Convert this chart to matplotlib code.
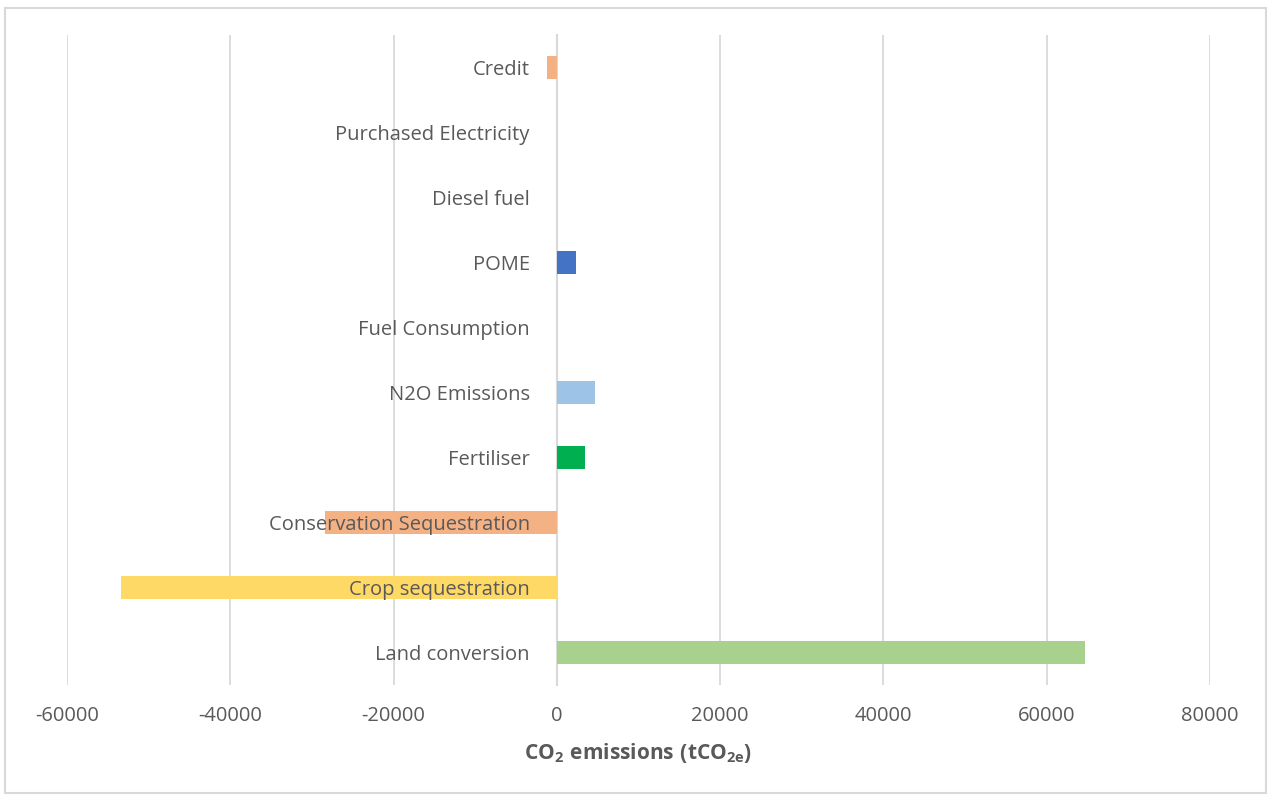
import matplotlib.pyplot as plt
from matplotlib.patches import Rectangle

plt.rcParams['font.family'] = ['Open Sans', 'DejaVu Sans']
plt.rcParams['mathtext.fontset'] = 'custom'
plt.rcParams['mathtext.rm'] = 'Open Sans'
plt.rcParams['mathtext.bf'] = 'Open Sans:bold'

# emission sources, bottom to top
sources = ['Land conversion', 'Crop sequestration', 'Conservation Sequestration',
           'Fertiliser', 'N2O Emissions', 'Fuel Consumption', 'POME',
           'Diesel fuel', 'Purchased Electricity', 'Credit']
emissions = [64700, -53400, -28400, 3400, 4650, 0, 2300, 0, 0, -1200]
bar_colors = ['#A9D18E', '#FFD966', '#F4B183', '#00B050', '#9DC3E6',
              '#A5A5A5', '#4472C4', '#ED7D31', '#5B9BD5', '#F4B183']
ticks = [-60000, -40000, -20000, 0, 20000, 40000, 60000, 80000]

text_col = '#595959'
grid_col = '#D9D9D9'

fig = plt.figure(figsize=(12.68, 7.96), dpi=100)
ax = fig.add_axes([67 / 1268, 1 - 685 / 796, (1210 - 67) / 1268, (685 - 35) / 796])

pos = list(range(len(sources)))
ax.barh(pos, emissions, height=0.36, color=bar_colors, zorder=3)

ax.set_xlim(-60000, 80000)
ax.set_ylim(-0.5, len(sources) - 0.5)
ax.set_xticks(ticks)
ax.set_xticklabels([str(t) for t in ticks])
ax.set_yticks(pos)
ax.set_yticklabels(sources)

ax.grid(axis='x', color=grid_col, linewidth=1.3, zorder=0)
for side in ['top', 'right', 'bottom']:
    ax.spines[side].set_visible(False)
ax.spines['left'].set_position(('data', 0))
ax.spines['left'].set_color(grid_col)
ax.spines['left'].set_linewidth(1.5)
ax.spines['left'].set_zorder(2)

ax.tick_params(axis='y', length=0, pad=19.5, labelsize=14.5, labelcolor=text_col)
ax.tick_params(axis='x', length=0, pad=15, labelsize=14.5, labelcolor=text_col)
# category names sit on top of the negative bars
ax.yaxis.set_zorder(5)

ax.set_xlabel(r'$\mathbf{CO_2\ emissions\ (tCO_{2e})}$', fontsize=15,
              color=text_col, labelpad=11)

# outer chart border
fig.add_artist(Rectangle((5 / 1268, 3 / 796), 1261 / 1268, 785 / 796,
                         transform=fig.transFigure, fill=False,
                         edgecolor=grid_col, linewidth=1.5))

fig.savefig('out.png', dpi=100)
